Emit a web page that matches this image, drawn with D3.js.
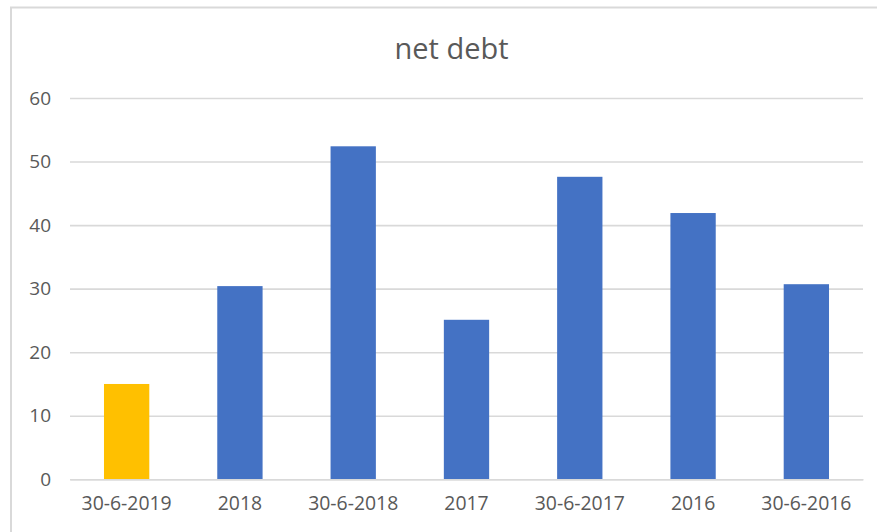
<!DOCTYPE html>
<html>
<head>
<meta charset="utf-8">
<script src="https://cdn.jsdelivr.net/npm/d3@7"></script>
<style>
  html, body { margin: 0; padding: 0; background: #fff; }
  svg { display: block; }
</style>
</head>
<body>
<svg id="chart" width="877" height="532"></svg>
<script>
const categories = ["30-6-2019", "2018", "30-6-2018", "2017", "30-6-2017", "2016", "30-6-2016"];
const values = [15, 30.4, 52.4, 25.1, 47.6, 41.9, 30.7];
const barColors = ["#FFC000", "#4472C4", "#4472C4", "#4472C4", "#4472C4", "#4472C4", "#4472C4"];
const yTicks = [0, 10, 20, 30, 40, 50, 60];
const title = "net debt";

(function () {
const svg = d3.select("#chart");
const W = 877, H = 532;
const plotLeft = 70, plotRight = 863, plotTop = 98, plotBottom = 479.3;
const font = "'Open Sans', 'DejaVu Sans', sans-serif";
const textColor = "#595959";

// chart border
svg.append("rect")
  .attr("x", 11).attr("y", 7.5)
  .attr("width", W + 10).attr("height", H + 10)
  .attr("fill", "none")
  .attr("stroke", "#d9d9d9")
  .attr("stroke-width", 2);

const x = d3.scaleBand()
  .domain(categories)
  .range([plotLeft, plotRight])
  .paddingInner(0.6)
  .paddingOuter(0.3);

const y = d3.scaleLinear()
  .domain([0, 60])
  .range([plotBottom, plotTop]);

// gridlines
const yAxis = d3.axisLeft(y).tickValues(yTicks).tickSize(-(plotRight - plotLeft)).tickPadding(19);
const gy = svg.append("g")
  .attr("transform", `translate(${plotLeft},0)`)
  .call(yAxis);
gy.select(".domain").remove();
gy.selectAll(".tick line")
  .attr("stroke", "#d9d9d9")
  .attr("stroke-width", 1.6);
gy.selectAll(".tick text")
  .attr("fill", textColor)
  .attr("font-family", font)
  .attr("font-size", "19px");

// bars
svg.append("g")
  .selectAll("rect")
  .data(values)
  .join("rect")
  .attr("x", (d, i) => x(categories[i]))
  .attr("width", x.bandwidth())
  .attr("y", d => y(d))
  .attr("height", d => y(0) - y(d))
  .attr("fill", (d, i) => barColors[i]);

// x axis
const xAxis = d3.axisBottom(x).tickSize(0).tickPadding(17);
const gx = svg.append("g")
  .attr("transform", `translate(0,${plotBottom})`)
  .call(xAxis);
gx.select(".domain")
  .attr("stroke", "#d9d9d9")
  .attr("stroke-width", 1.6);
gx.selectAll(".tick text")
  .attr("fill", textColor)
  .attr("font-family", font)
  .attr("font-size", "19.4px");

// title
svg.append("text")
  .attr("x", 451.5)
  .attr("y", 59)
  .attr("text-anchor", "middle")
  .attr("fill", textColor)
  .attr("font-family", font)
  .attr("font-size", "29px")
  .text(title);
})();
</script>
</body>
</html>
